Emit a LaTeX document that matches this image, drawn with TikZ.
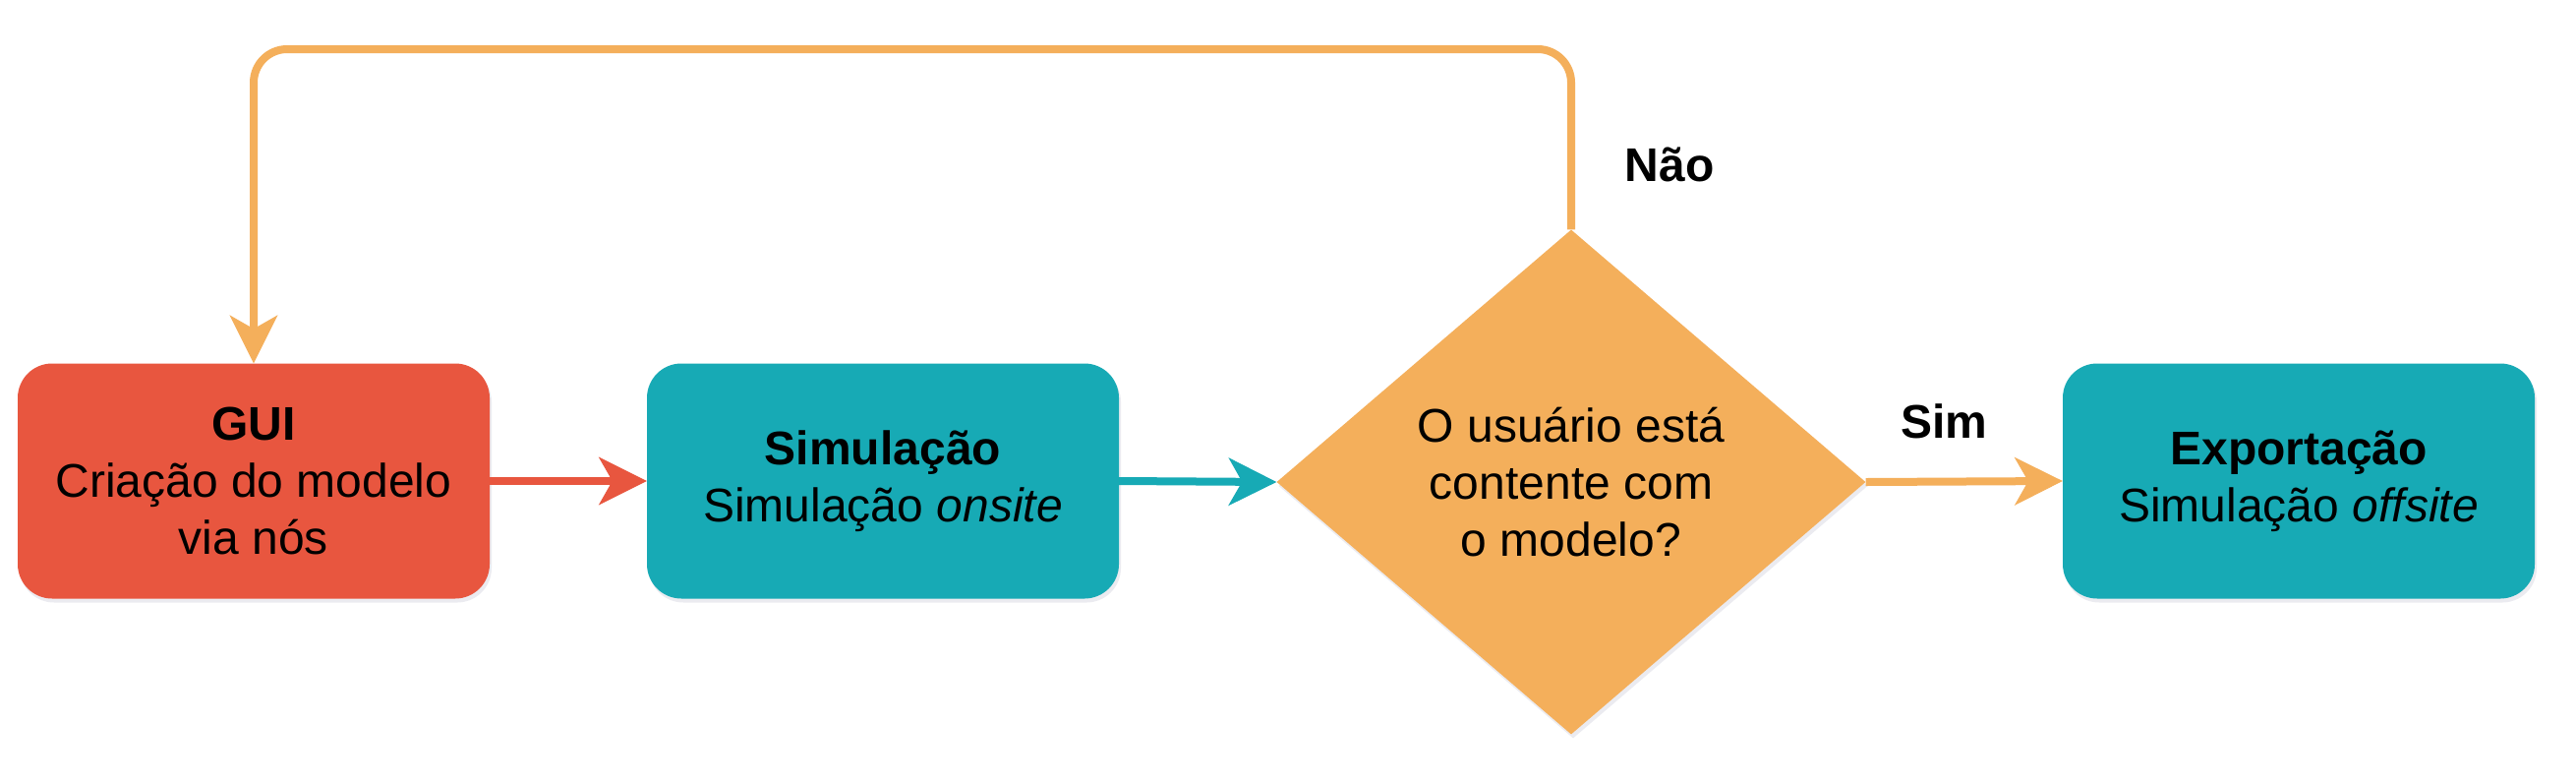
\documentclass[tikz,border=0pt]{standalone}
\usepackage{fontspec}
\setmainfont{Liberation Sans}
\usetikzlibrary{arrows.meta,shapes.geometric,shadows}
\definecolor{cred}{HTML}{E8563F}
\definecolor{cteal}{HTML}{17AAB5}
\definecolor{corange}{HTML}{F4AF5B}
\begin{document}
\begin{tikzpicture}[x=1pt,y=-1pt,
  every node/.style={font=\fontsize{48}{57.6}\selectfont, text=black},
  softshadow/.style={drop shadow={opacity=0.08, shadow xshift=2pt, shadow yshift=-4pt, fill=blue!30!black}},
  box/.style={rounded corners=35pt, minimum width=480pt, minimum height=239pt,
    align=center, inner sep=0pt, softshadow},
  decision/.style={diamond, aspect=1.168, minimum width=599pt, minimum height=513pt,
    inner sep=0pt, align=center, softshadow},
  flow/.style={line width=8pt, draw=#1,
    -{Stealth[length=49pt, width=49pt, inset=14pt, line width=1pt, fill=#1, color=#1]}},
  lbl/.style={font=\fontsize{48}{57.6}\selectfont\bfseries}
]
\useasboundingbox (0,0) rectangle (2620,796);
\fill[white] (0,0) rectangle (2620,796);

\node[box, fill=cred] (gui) at (258,489) {\textbf{GUI}\\Criação do modelo\\via nós};
\node[box, fill=cteal] (sim) at (898,489) {\textbf{Simulação}\\Simulação \textit{onsite}};
\node[decision, fill=corange] (dia) at (1598,490) {O usuário está\\contente com\\o modelo?};
\node[box, fill=cteal] (exp) at (2338,489) {\textbf{Exportação}\\Simulação \textit{offsite}};

\coordinate (topy) at (0,50);

\draw[flow=cred] (gui.east) -- (sim.west);
\draw[flow=cteal] (sim.east) -- (dia.west);
\draw[flow=corange] (dia.east) -- (exp.west);
\draw[flow=corange, rounded corners=34pt] (dia.north) -- (dia.north |- topy) -| (gui.north);

\node[lbl] (nao) at (1698,167) {Não};
\node[lbl] (simlbl) at (1977,428) {Sim};
\end{tikzpicture}
\end{document}
